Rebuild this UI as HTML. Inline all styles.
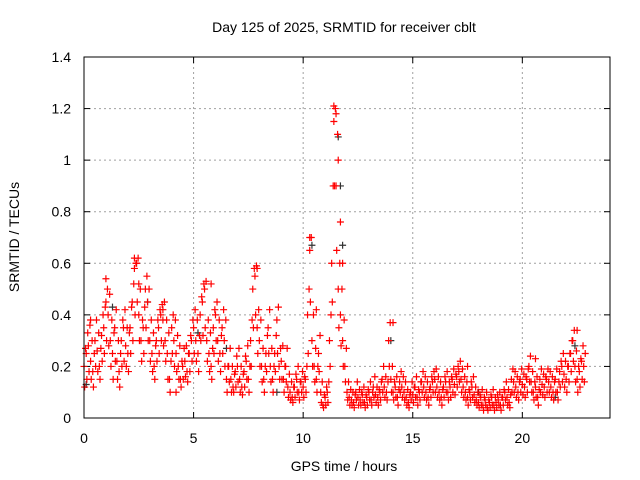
<!DOCTYPE html>
<html><head><meta charset="utf-8"><style>
body{margin:0;background:#fff;}
svg{display:block;font-family:"Liberation Sans",sans-serif;font-size:14px;}
</style></head><body>
<svg id="chart" width="640" height="480">
<g id="grid"></g>
<g id="axes"></g>
<g id="marks"></g>
<rect x="84" y="57" width="526" height="361" fill="none" stroke="#000" stroke-width="1"/>
<text x="344" y="32" text-anchor="middle">Day 125 of 2025, SRMTID for receiver cblt</text>
<text x="344" y="471" text-anchor="middle">GPS time / hours</text>
<text transform="translate(19,237) rotate(-90)" text-anchor="middle">SRMTID / TECUs</text>
</svg>
<script>
const xTicks=[0,5,10,15,20];
const yTicks=[0,0.2,0.4,0.6,0.8,1,1.2,1.4];
const yTickLabels=["0","0.2","0.4","0.6","0.8","1","1.2","1.4"];
const startHour=0, stepHour=0.1;
const redValues=[
0.2,0.25,0.28,0.22,0.18,0.3,0.26,0.2,0.32,0.35,
0.45,0.4,0.3,0.25,0.35,0.22,0.18,0.3,0.35,0.28,
0.25,0.35,0.45,0.58,0.6,0.4,0.3,0.35,0.5,0.45,
0.3,0.25,0.2,0.3,0.35,0.4,0.38,0.3,0.25,0.15,
0.35,0.3,0.25,0.2,0.15,0.2,0.22,0.18,0.25,0.3,
0.35,0.3,0.25,0.4,0.45,0.5,0.3,0.25,0.2,0.35,
0.4,0.3,0.25,0.35,0.3,0.15,0.2,0.15,0.12,0.18,
0.2,0.15,0.12,0.18,0.22,0.15,0.3,0.5,0.55,0.35,
0.3,0.2,0.15,0.25,0.35,0.2,0.15,0.25,0.38,0.2,
0.22,0.15,0.2,0.12,0.1,0.08,0.12,0.15,0.1,0.14,
0.12,0.15,0.4,0.65,0.3,0.2,0.15,0.25,0.1,0.05,
0.08,0.1,0.3,0.6,1.15,0.9,0.5,0.4,0.3,0.2,
0.1,0.08,0.07,0.06,0.1,0.08,0.07,0.09,0.06,0.08,
0.1,0.07,0.12,0.09,0.08,0.1,0.15,0.12,0.1,0.3,
0.15,0.1,0.12,0.08,0.14,0.12,0.1,0.08,0.06,0.1,
0.09,0.12,0.08,0.1,0.14,0.12,0.1,0.08,0.12,0.14,
0.15,0.12,0.1,0.08,0.12,0.14,0.1,0.12,0.15,0.13,
0.16,0.18,0.15,0.12,0.1,0.08,0.1,0.12,0.09,0.07,
0.06,0.08,0.05,0.07,0.04,0.06,0.08,0.05,0.06,0.07,
0.05,0.08,0.1,0.08,0.06,0.15,0.14,0.12,0.1,0.15,
0.13,0.12,0.15,0.2,0.14,0.1,0.12,0.08,0.15,0.13,
0.12,0.15,0.14,0.12,0.1,0.15,0.1,0.18,0.2,0.17,
0.15,0.2,0.25,0.3,0.2,0.15,0.18,0.22,0.2];
const redLowValues=[
0.12,0.15,0.18,0.15,0.12,0.2,0.18,0.15,0.22,0.25,
0.3,0.28,0.2,0.15,0.22,0.15,0.12,0.2,0.22,0.2,
0.18,0.25,0.3,0.4,0.45,0.3,0.22,0.25,0.35,0.3,
0.22,0.18,0.15,0.22,0.25,0.3,0.28,0.22,0.15,0.1,
0.25,0.2,0.18,0.15,0.12,0.15,0.16,0.14,0.18,0.22,
0.25,0.22,0.18,0.3,0.32,0.35,0.22,0.18,0.15,0.25,
0.3,0.22,0.18,0.25,0.2,0.1,0.14,0.1,0.1,0.12,
0.14,0.1,0.09,0.12,0.15,0.1,0.2,0.35,0.4,0.25,
0.2,0.14,0.1,0.18,0.25,0.14,0.1,0.18,0.25,0.15,
0.15,0.1,0.14,0.08,0.07,0.06,0.08,0.1,0.07,0.1,
0.08,0.1,0.25,0.45,0.2,0.14,0.1,0.18,0.06,0.04,
0.05,0.06,0.2,0.45,0.9,0.65,0.35,0.28,0.2,0.14,
0.07,0.05,0.05,0.04,0.07,0.05,0.05,0.06,0.04,0.05,
0.07,0.05,0.08,0.06,0.05,0.07,0.1,0.08,0.07,0.2,
0.1,0.07,0.08,0.05,0.1,0.08,0.07,0.05,0.04,0.07,
0.06,0.08,0.05,0.07,0.1,0.08,0.07,0.05,0.08,0.1,
0.1,0.08,0.07,0.05,0.08,0.1,0.07,0.08,0.1,0.09,
0.12,0.14,0.1,0.08,0.07,0.05,0.07,0.08,0.06,0.05,
0.04,0.05,0.03,0.05,0.03,0.04,0.05,0.03,0.04,0.05,
0.03,0.05,0.07,0.05,0.04,0.1,0.1,0.08,0.07,0.1,
0.09,0.08,0.1,0.14,0.1,0.07,0.08,0.05,0.1,0.09,
0.08,0.1,0.1,0.08,0.07,0.1,0.07,0.12,0.14,0.12,
0.1,0.14,0.18,0.22,0.14,0.1,0.12,0.15,0.14];
const redHighValues=[
0.27,0.33,0.36,0.3,0.25,0.38,0.33,0.27,0.4,0.43,
0.5,0.48,0.38,0.33,0.42,0.3,0.25,0.38,0.42,0.35,
0.33,0.43,0.52,0.6,0.62,0.5,0.38,0.43,0.55,0.5,
0.38,0.33,0.28,0.38,0.42,0.44,0.45,0.38,0.33,0.22,
0.4,0.38,0.32,0.28,0.22,0.27,0.28,0.25,0.32,0.38,
0.42,0.38,0.32,0.47,0.52,0.53,0.38,0.33,0.27,0.42,
0.45,0.38,0.32,0.42,0.38,0.2,0.27,0.2,0.17,0.24,
0.27,0.2,0.17,0.24,0.28,0.2,0.38,0.58,0.59,0.42,
0.38,0.27,0.2,0.32,0.42,0.27,0.2,0.32,0.43,0.27,
0.28,0.2,0.27,0.17,0.14,0.12,0.17,0.2,0.14,0.18,
0.16,0.2,0.5,0.7,0.4,0.27,0.2,0.32,0.14,0.09,
0.12,0.14,0.4,0.9,1.2,1.1,0.6,0.5,0.38,0.27,
0.14,0.11,0.1,0.09,0.14,0.11,0.1,0.12,0.09,0.11,
0.14,0.1,0.16,0.12,0.11,0.14,0.2,0.16,0.14,0.37,
0.2,0.14,0.16,0.11,0.18,0.16,0.14,0.11,0.09,0.14,
0.12,0.16,0.11,0.14,0.18,0.16,0.14,0.11,0.16,0.18,
0.19,0.16,0.14,0.11,0.16,0.18,0.14,0.16,0.19,0.17,
0.2,0.22,0.19,0.16,0.14,0.11,0.14,0.16,0.12,0.1,
0.09,0.11,0.08,0.1,0.07,0.09,0.11,0.08,0.09,0.1,
0.08,0.11,0.14,0.11,0.09,0.19,0.18,0.16,0.14,0.19,
0.17,0.16,0.19,0.24,0.18,0.14,0.16,0.11,0.19,0.17,
0.16,0.19,0.18,0.16,0.14,0.19,0.14,0.22,0.25,0.22,
0.2,0.25,0.3,0.34,0.26,0.2,0.23,0.28,0.25];
const redExtraTimes=[0.3,1.0,2.3,2.5,3.6,4.2,5.8,7.9,10.3,10.6,11.4,11.5,11.6,11.7,11.8,14.1,17.5,20.6,22.5];
const redExtraValues=[0.38,0.54,0.62,0.52,0.42,0.1,0.52,0.58,0.7,0.42,1.21,1.18,1.0,0.76,0.6,0.37,0.2,0.23,0.34];
const blackTimes=[0.1,1.3,2.9,5.2,6.5,8.8,10.4,11.6,11.7,11.8,14.0,18.0,21.5,22.4];
const blackValues=[0.13,0.43,0.45,0.33,0.27,0.1,0.67,1.09,0.9,0.67,0.3,0.1,0.08,0.28];
const NS="http://www.w3.org/2000/svg";
const X=v=>84+v*(526/24), Y=v=>418-v*(361/1.4);
const grid=document.getElementById('grid'),axes=document.getElementById('axes'),marks=document.getElementById('marks');
function mk(t,a,p){const e=document.createElementNS(NS,t);for(const k in a)e.setAttribute(k,a[k]);p.appendChild(e);return e;}
xTicks.forEach(t=>{const x=X(t);
 if(t>0){const g=mk('line',{x1:x,y1:57,x2:x,y2:418,stroke:'#a0a0a0','stroke-dasharray':'2,3'},grid);
 
 }
 mk('line',{x1:x,y1:418,x2:x,y2:412,stroke:'#000'},axes);mk('line',{x1:x,y1:57,x2:x,y2:63,stroke:'#000'},axes);
 const l=mk('text',{x:x,y:443,'text-anchor':'middle'},axes);l.textContent=t;
 
 });
yTicks.forEach((t,i)=>{const y=Y(t);
 if(t>0&&t<1.4){const g=mk('line',{x1:84,y1:y,x2:610,y2:y,stroke:'#a0a0a0','stroke-dasharray':'2,3'},grid);
 
 }
 mk('line',{x1:84,y1:y,x2:90,y2:y,stroke:'#000'},axes);mk('line',{x1:610,y1:y,x2:604,y2:y,stroke:'#000'},axes);
 const l=mk('text',{x:71,y:y+5,'text-anchor':'end'},axes);l.textContent=yTickLabels[i];
 
 });
function plus(t,v,c){const x=X(t),y=Y(v);
 const p=mk('path',{d:`M${x-3.5},${y}H${x+3.5}M${x},${y-3.5}V${y+3.5}`,stroke:c,'stroke-width':1.2,fill:'none'},marks);
 
 }
blackTimes.forEach((t,i)=>plus(t,blackValues[i],'#333'));
redValues.forEach((v,i)=>plus(startHour+i*stepHour,v,'#f00'));
redLowValues.forEach((v,i)=>plus(startHour+i*stepHour+0.03,v,'#f00'));
redHighValues.forEach((v,i)=>plus(startHour+i*stepHour+0.07,v,'#f00'));
redExtraTimes.forEach((t,i)=>plus(t,redExtraValues[i],'#f00'));
</script>
</body></html>
